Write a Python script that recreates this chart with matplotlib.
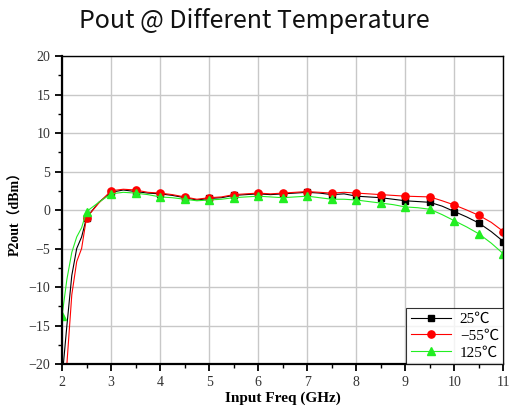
import matplotlib
matplotlib.use("Agg")
import matplotlib.pyplot as plt
from matplotlib.ticker import MultipleLocator

freq = [2.0, 2.1, 2.2, 2.3, 2.4, 2.5, 2.75, 3.0, 3.25, 3.5, 3.75, 4.0, 4.25, 4.5, 4.75,
        5.0, 5.25, 5.5, 5.75, 6.0, 6.25, 6.5, 6.75, 7.0, 7.25, 7.5, 7.75, 8.0, 8.25,
        8.5, 8.75, 9.0, 9.25, 9.5, 9.75, 10.0, 10.25, 10.5, 10.75, 11.0]

p_25 = [-22, -15, -8.5, -5, -3.5, -1.0, 1.0, 2.3, 2.6, 2.4, 2.2, 2.1, 1.9, 1.6, 1.3,
        1.5, 1.6, 1.9, 2.0, 2.1, 2.0, 2.1, 2.2, 2.3, 2.2, 2.0, 2.1, 1.8, 1.7,
        1.6, 1.4, 1.2, 1.1, 1.0, 0.5, -0.2, -0.9, -1.7, -2.8, -4.1]
p_m55 = [-25, -20, -11, -6.7, -5, -1.0, 0.9, 2.5, 2.7, 2.6, 2.3, 2.2, 2.0, 1.7, 1.4,
         1.6, 1.7, 2.0, 2.1, 2.2, 2.1, 2.2, 2.3, 2.4, 2.3, 2.2, 2.3, 2.2, 2.1,
         2.0, 1.9, 1.8, 1.75, 1.7, 1.2, 0.65, 0.0, -0.7, -1.6, -2.8]
p_125 = [-13.8, -9, -5.5, -3.5, -2.3, -0.2, 1.0, 2.1, 2.3, 2.2, 2.0, 1.7, 1.6, 1.4, 1.2,
         1.3, 1.4, 1.6, 1.7, 1.8, 1.7, 1.6, 1.7, 1.8, 1.6, 1.4, 1.4, 1.3, 1.1,
         0.9, 0.7, 0.4, 0.3, 0.1, -0.6, -1.4, -2.2, -3.1, -4.3, -5.7]

labels = ["25\u2103", "\u221255\u2103", "125\u2103"]
title = "Pout @ Different Temperature"
xlabel = "Input Freq (GHz)"
ylabel = "P2out\uff08dBm\uff09"

mark_idx = [i for i, f in enumerate(freq) if abs(f * 2 - round(f * 2)) < 1e-9]

fig = plt.figure(figsize=(5.11, 4.09), dpi=100)
ax = fig.add_axes([0.1213, 0.110, 0.864, 0.753])

serif = ["Liberation Serif", "DejaVu Serif"]

ax.plot(freq, p_25, color="#000000", lw=0.8, marker="s", ms=4.2, markevery=mark_idx, label=labels[0])
ax.plot(freq, p_m55, color="#ff0000", lw=0.8, marker="o", ms=5.2, markevery=mark_idx, label=labels[1])
ax.plot(freq, p_125, color="#22ee22", lw=0.8, marker="^", ms=5.5, markevery=mark_idx, label=labels[2])

ax.set_xlim(2, 11)
ax.set_ylim(-20, 20)
ax.xaxis.set_major_locator(MultipleLocator(1))
ax.xaxis.set_minor_locator(MultipleLocator(0.5))
ax.yaxis.set_major_locator(MultipleLocator(5))
ax.yaxis.set_minor_locator(MultipleLocator(2.5))
ax.grid(True, which="major", color="#c8c8c8", lw=1.0)
ax.set_axisbelow(True)

for s in ["left", "bottom"]:
    ax.spines[s].set_linewidth(1.6)
for s in ["top", "right"]:
    ax.spines[s].set_linewidth(1.0)
ax.tick_params(which="major", direction="out", length=5, width=1.3, labelsize=10, colors="#000000")
ax.tick_params(which="minor", direction="out", length=3, width=1.0)
ax.tick_params(axis="x", labelcolor="#333333")
ax.tick_params(axis="y", labelcolor="#333333")
for t in ax.get_xticklabels() + ax.get_yticklabels():
    t.set_family(serif)

ax.set_xlabel(xlabel, fontfamily=serif, fontsize=11, fontweight="bold", labelpad=2)
ax.set_ylabel(ylabel, fontsize=10, fontweight="bold", labelpad=4)
ax.yaxis.label.set_family(["Liberation Serif", "Noto Sans CJK SC"])

fig.text(0.497, 0.948, title, ha="center", va="center", fontsize=18,
         fontfamily=["Noto Sans CJK SC", "DejaVu Sans"], fontweight="light", color="#111111")

leg = ax.legend(loc="lower right", frameon=True, fancybox=False, borderaxespad=0.0,
                prop={"family": ["Liberation Serif", "Noto Sans CJK SC"], "size": 11},
                handlelength=2.6, borderpad=0.3, labelspacing=0.2, handletextpad=0.6)
leg.get_frame().set_edgecolor("#000000")
leg.get_frame().set_linewidth(0.8)

fig.savefig("out.png", dpi=100)
